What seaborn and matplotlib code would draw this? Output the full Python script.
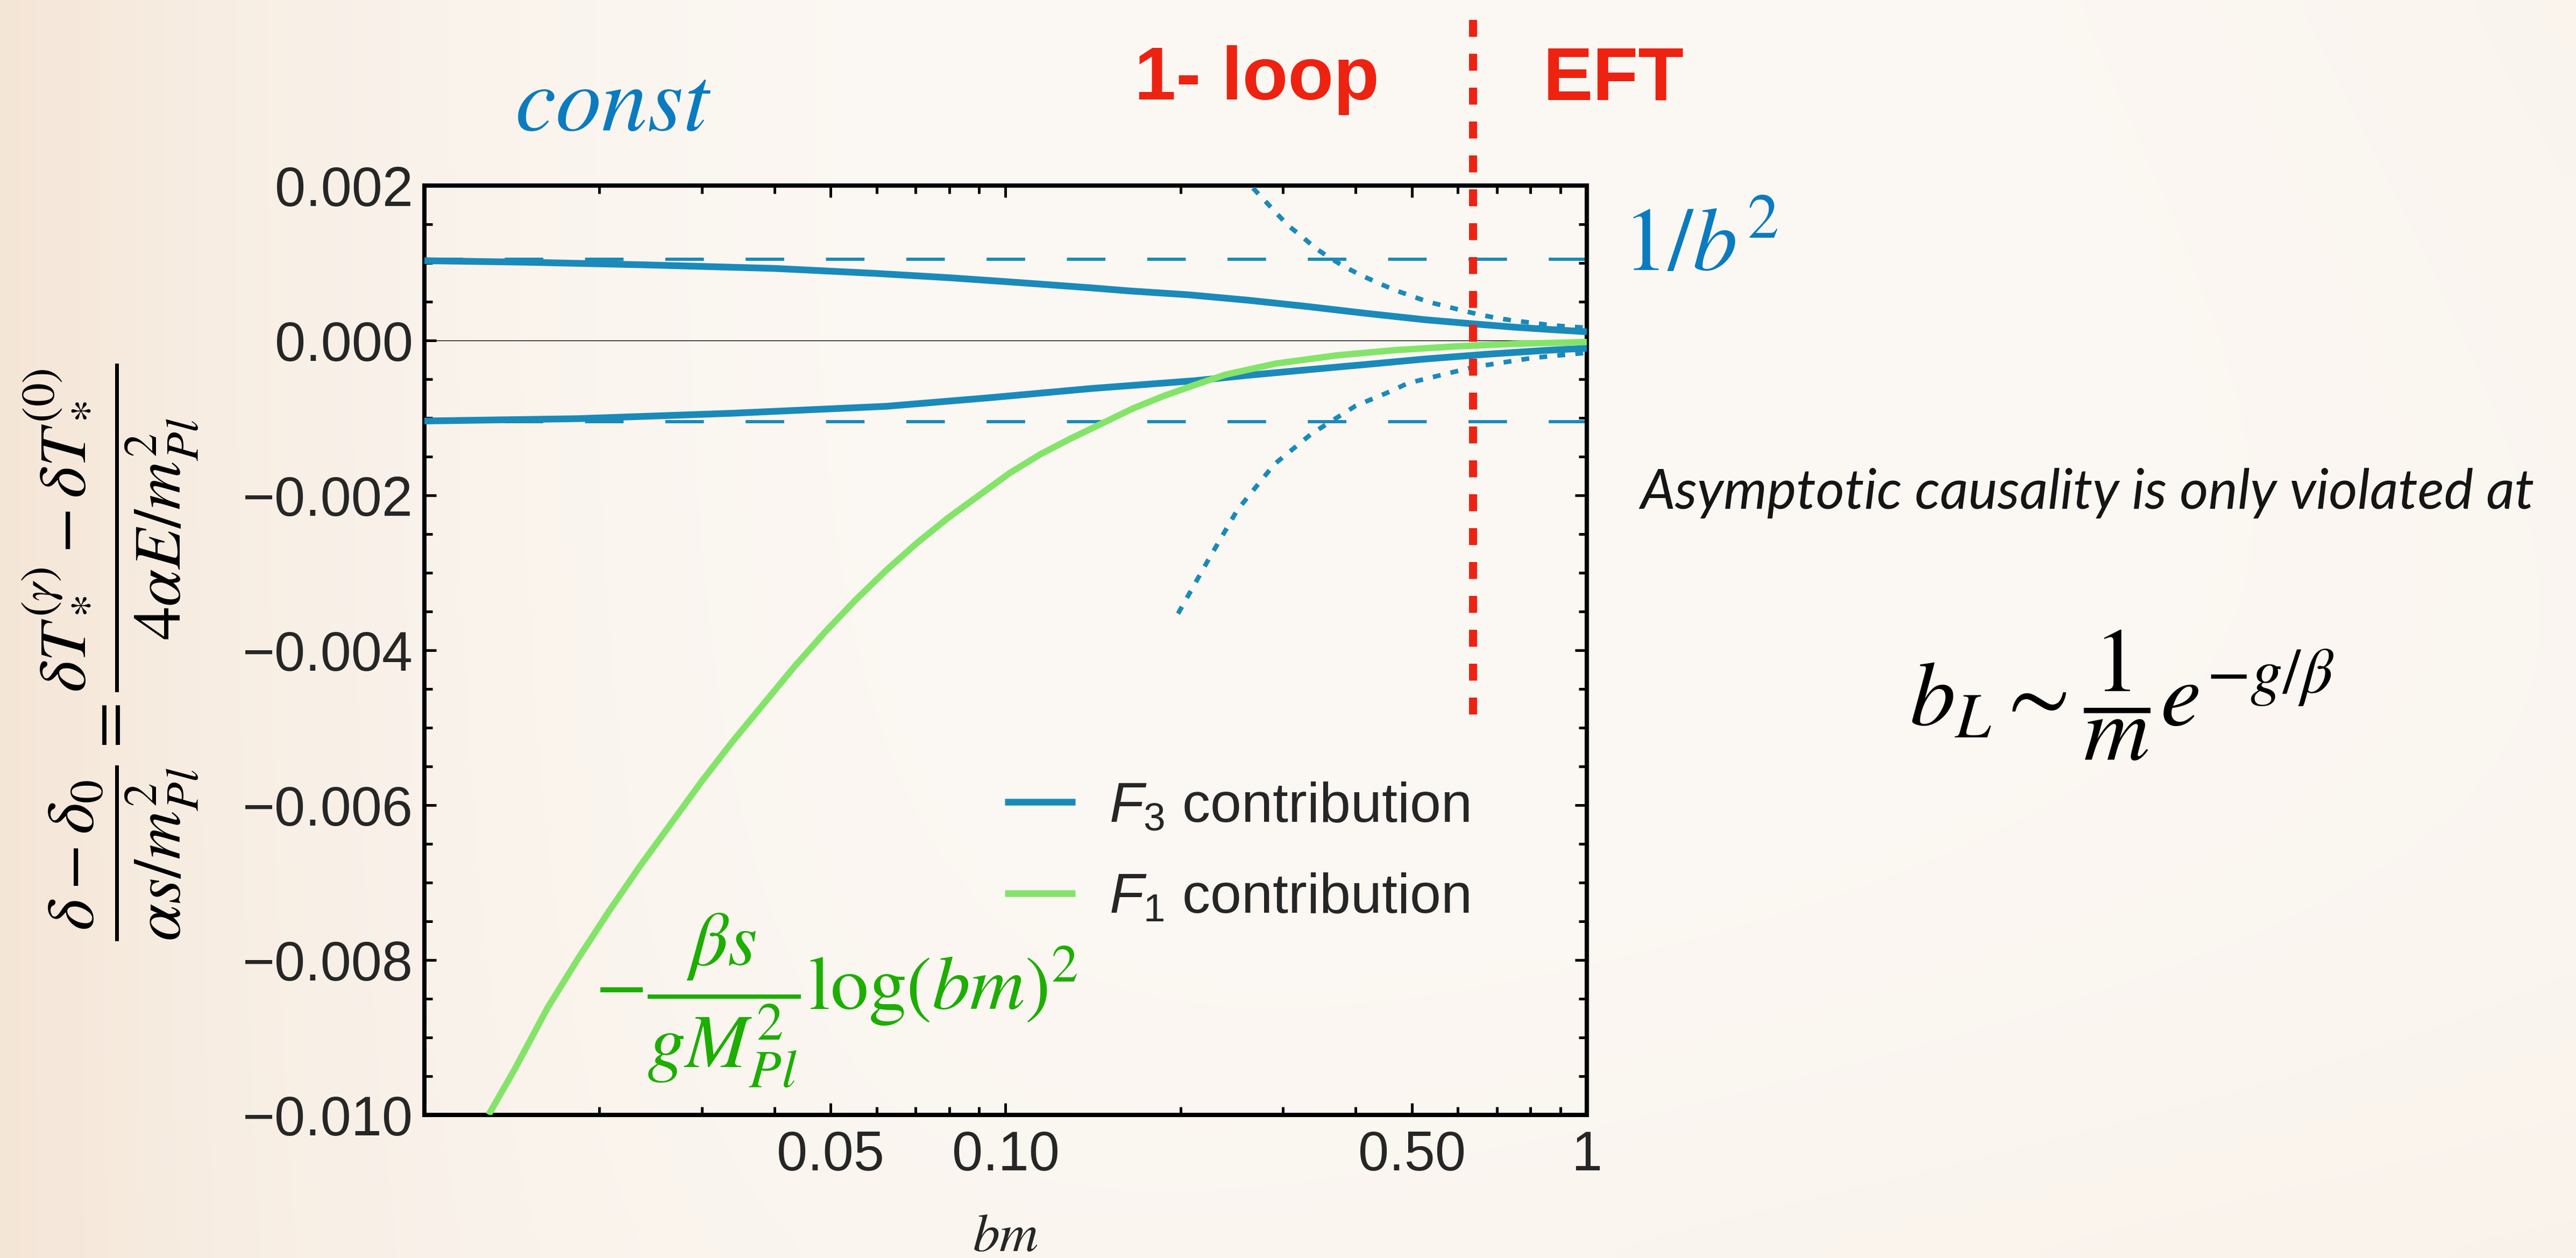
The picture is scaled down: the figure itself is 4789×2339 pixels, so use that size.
import numpy as np
import matplotlib
matplotlib.use("Agg")
import matplotlib.pyplot as plt
import seaborn as sns
from matplotlib.font_manager import FontProperties

# ---------------- data ----------------
f3_upper_bm = [0.01, 0.015, 0.024, 0.04, 0.059, 0.08, 0.107, 0.14, 0.163, 0.206,
               0.261, 0.329, 0.417, 0.526, 0.636, 0.749, 0.87, 1.0]
f3_upper_val = [0.00103, 0.00101, 0.000976, 0.00093, 0.000868, 0.00081, 0.000744,
                0.00068, 0.00064, 0.00059, 0.00052, 0.00044, 0.00035, 0.000268,
                0.000215, 0.000172, 0.00014, 0.000112]

f3_lower_bm = [0.01, 0.0184, 0.0339, 0.0624, 0.0937, 0.1407, 0.2114, 0.261, 0.329,
               0.417, 0.526, 0.667, 0.842, 1.0]
f3_lower_val = [-0.00104, -0.00101, -0.00094, -0.00085, -0.00074, -0.00062, -0.00052,
                -0.00045, -0.00038, -0.00031, -0.00024, -0.00018, -0.00013, -0.0001]

f1_bm = [0.0129, 0.01428, 0.01629, 0.01841, 0.0208, 0.0235, 0.02655, 0.02999,
         0.03388, 0.03828, 0.04325, 0.04886, 0.0552, 0.06237, 0.07047, 0.07962,
         0.08995, 0.1016, 0.1148, 0.1297, 0.1466, 0.1656, 0.1871, 0.2114, 0.2388,
         0.292, 0.370, 0.468, 0.591, 0.749, 1.0]
f1_val = [-0.009997, -0.009419, -0.008617, -0.007974, -0.007364, -0.006786, -0.00624,
          -0.005694, -0.005181, -0.004699, -0.004217, -0.003768, -0.003351, -0.002965,
          -0.002612, -0.002291, -0.002002, -0.001713, -0.001469, -0.001263, -0.001071,
          -0.000878, -0.000717, -0.000576, -0.000442, -0.000298, -0.000194, -0.000125,
          -0.000078, -0.000044, -0.00002]

dot_upper_bm = [0.255, 0.2666, 0.2793, 0.2925, 0.3066, 0.3235, 0.3412, 0.3615, 0.3834,
                0.411, 0.4413, 0.4679, 0.502, 0.533, 0.572, 0.613, 0.651, 0.698,
                0.748, 0.803, 0.861, 0.925, 1.0]
dot_upper_val = [0.00215, 0.001966, 0.001804, 0.001642, 0.001481, 0.001342, 0.001192,
                 0.001065, 0.000949, 0.000834, 0.00073, 0.000649, 0.000568, 0.000499,
                 0.000441, 0.000384, 0.000337, 0.000291, 0.000256, 0.000229,
                 0.000199, 0.00018, 0.000164]

dot_lower_bm = [0.198, 0.223, 0.2506, 0.290, 0.336, 0.400, 0.462, 0.492, 0.640,
                0.809, 1.0]
dot_lower_val = [-0.003527, -0.00284, -0.002186, -0.001598, -0.001205, -0.000845,
                 -0.00065, -0.000552, -0.000342, -0.000224, -0.000159]

const_level = 0.00105
eft_boundary_bm = 0.637

xtick_vals = [0.05, 0.1, 0.5, 1.0]
xtick_labels = ["0.05", "0.10", "0.50", "1"]
xminor_vals = [0.02, 0.03, 0.04, 0.06, 0.07, 0.08, 0.09, 0.2, 0.3, 0.4, 0.6, 0.7, 0.8, 0.9]
ytick_vals = [-0.010, -0.008, -0.006, -0.004, -0.002, 0.000, 0.002]
ytick_labels = ["\u22120.010", "\u22120.008", "\u22120.006", "\u22120.004",
                "\u22120.002", "0.000", "0.002"]
yminor_vals = [v / 10000 for v in range(-100, 21, 5)]

# ---------------- style ----------------
sns.set_style("ticks")
plt.rcParams["font.family"] = ["Liberation Sans", "DejaVu Sans"]
plt.rcParams["mathtext.it"] = "Liberation Sans:italic"
plt.rcParams["mathtext.rm"] = "Liberation Sans"
plt.rcParams["mathtext.sf"] = "Liberation Sans"

BLUE = "#1A8ABA"
GREEN = "#84E46A"
RED = "#EE2211"
TXTBLUE = "#0B7BC0"
TXTGREEN = "#1DAE00"

W, H = 4789, 2339
def fx(px):
    return px / W
def fy(py):
    return 1 - py / H

fig = plt.figure(figsize=(W / 100, H / 100), dpi=100)
fig.patch.set_facecolor("#FAF2EB")

# subtle paper-like background
bg = fig.add_axes([0, 0, 1, 1], zorder=-10)
gy, gx = np.mgrid[0:1:60j, 0:1:120j]
light = np.array([252, 249, 245]) / 255.0
warm = np.array([244, 228, 212]) / 255.0
t = np.clip(0.9 * (1 - gx) ** 6 + 0.30 * gy ** 3 * gx + 0.22 * (gx ** 4) * (1 - gy), 0, 1)
img = light[None, None, :] * (1 - t[..., None]) + warm[None, None, :] * t[..., None]
bg.imshow(img, aspect="auto", extent=[0, 1, 0, 1], interpolation="bicubic")
bg.axis("off")

ax = fig.add_axes([789 / W, 1 - 2073 / H, (2950 - 789) / W, (2073 - 345) / H])
ax.set_facecolor("none")
ax.set_xscale("log")

ax.axhline(const_level, color=BLUE, lw=4.3, dashes=(12, 13), zorder=2)
ax.axhline(-const_level, color=BLUE, lw=4.3, dashes=(12, 13), zorder=2)
ax.axhline(0, color="black", lw=1.0, zorder=2.5)

def curve(xv, yv, color, width, z, label=None, style="-"):
    n0 = len(ax.lines)
    sns.lineplot(x=xv, y=yv, ax=ax, color=color, label=label, zorder=z,
                 linestyle=style, linewidth=width)
    for ln in ax.lines[n0:]:
        ln.set_linewidth(width)
        ln.set_solid_capstyle("butt")
        ln.set_dash_capstyle("butt")

curve(f3_upper_bm, f3_upper_val, BLUE, 9.0, 3, label=r"$F_3$ contribution")
curve(f3_lower_bm, f3_lower_val, BLUE, 9.0, 3)
curve(f1_bm, f1_val, GREEN, 8.6, 4, label=r"$F_1$ contribution")
curve(dot_upper_bm, dot_upper_val, BLUE, 6.2, 5, style=(0, (1.7, 2.2)))
curve(dot_lower_bm, dot_lower_val, BLUE, 6.2, 5, style=(0, (1.7, 2.2)))

ax.axvline(eft_boundary_bm, ymin=(2073 - 1328) / 1728, ymax=(2073 - 19) / 1728,
           color=RED, lw=10.8, dashes=(2.1, 2.1), clip_on=False, zorder=6)

ax.set_xlim(0.01, 1)
ax.set_ylim(-0.010, 0.002)
ax.set_xticks(xtick_vals)
ax.set_xticklabels(xtick_labels)
ax.set_xticks(xminor_vals, minor=True)
ax.set_xticklabels([], minor=True)
ax.set_yticks(ytick_vals)
ax.set_yticklabels(ytick_labels)
ax.set_yticks(yminor_vals, minor=True)
ax.tick_params(which="both", direction="in", top=True, right=True, width=3.6,
               color="black")
ax.tick_params(which="major", length=16, labelsize=74)
ax.tick_params(which="minor", length=11)
ax.tick_params(axis="x", which="major", pad=20)
ax.tick_params(axis="y", which="major", pad=15)
for s in ax.spines.values():
    s.set_linewidth(5.8)
    s.set_color("black")

leg = ax.legend(loc="center", bbox_to_anchor=(0.699, 0.2818), frameon=False,
                prop=FontProperties(family="Liberation Sans", size=75,
                                    math_fontfamily="custom"),
                handlelength=1.26, handletextpad=0.6, labelspacing=0.7,
                borderpad=0)
for h in leg.get_lines():
    h.set_linewidth(9.0)

ax.set_xlabel("bm", fontfamily="STIXGeneral", fontstyle="italic", fontsize=72)
ax.xaxis.label.set_va("baseline")
ax.xaxis.set_label_coords(0.5, (2073 - 2326) / 1728)

ylab = (r"$\dfrac{\delta-\delta_0}{\alpha s/m_{Pl}^2} = "
        r"\dfrac{\delta T_*^{(\gamma)} - \delta T_*^{(0)}}{4\alpha E/m_{Pl}^2}$")
fig.text(fx(205), fy(1213), ylab, rotation=90, math_fontfamily="stix", fontsize=90,
         ha="center", va="center", color="black")

fig.text(fx(1138), fy(242), "const", fontfamily="STIXGeneral", fontstyle="italic",
         fontsize=123, color=TXTBLUE, ha="center", va="baseline")
fig.text(fx(2337), fy(185), "1- loop", fontfamily="Liberation Sans", fontweight="bold",
         fontsize=100, color=RED, ha="center", va="baseline")
fig.text(fx(3000), fy(185), "EFT", fontfamily="Liberation Sans", fontweight="bold",
         fontsize=100, color=RED, ha="center", va="baseline")
fig.text(fx(3162), fy(503), r"$\mathit{1/b}^2$", math_fontfamily="stix", fontsize=120,
         color=TXTBLUE, ha="center", va="baseline")
fig.text(fx(3880), fy(946), "Asymptotic causality is only violated at",
         fontfamily="Lato", fontstyle="italic", fontsize=74,
         color="#151515", ha="center", va="baseline")
fig.text(fx(3945), fy(1293), r"$b_L \sim \dfrac{1}{m}e^{-g/\beta}$",
         math_fontfamily="stix", fontsize=122, color="black", ha="center", va="center")
fig.text(fx(1555), fy(1860), r"$-\dfrac{\beta s}{g M_{Pl}^2}\log(bm)^2$",
         math_fontfamily="stix", fontsize=102, color=TXTGREEN, ha="center", va="center")

fig.savefig("out.png", dpi=100, facecolor=fig.get_facecolor())
